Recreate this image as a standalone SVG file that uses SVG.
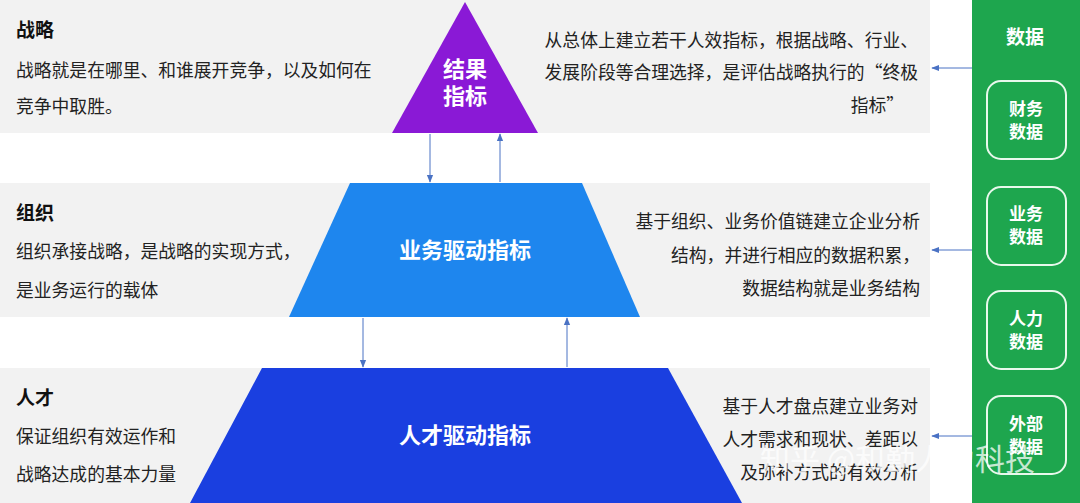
<svg xmlns="http://www.w3.org/2000/svg" width="1080" height="503" viewBox="0 0 1080 503">
<defs>
<style>
text{font-family:"Noto Sans CJK SC","Noto Sans",sans-serif}
.h{font-size:19px;font-weight:bold;fill:#111}
.t{font-size:17.8px;fill:#222}
.w{font-size:22px;font-weight:bold;fill:#fff}
.g{font-size:17px;font-weight:bold;fill:#fff}
.c{stroke:#4a72c4;stroke-width:1;fill:none;marker-end:url(#a)}
.box{fill:none;stroke:#e8f8ec;stroke-width:2}
</style>
<marker id="a" viewBox="0 0 10 10" refX="9" refY="5" markerWidth="8" markerHeight="8" orient="auto"><path d="M0,1L10,5L0,9z" fill="#4a72c4"/></marker>
</defs>
<rect width="1080" height="503" fill="#fff"/>
<g id="bands" fill="#f2f2f2">
<rect x="0" y="0" width="930" height="133"/>
<rect x="0" y="183" width="930" height="134"/>
<rect x="0" y="368" width="930" height="135"/>
</g>
<g id="strategy">
<text class="h" x="16" y="37">战略</text>
<text class="t" x="16" y="77">战略就是在哪里、和谁展开竞争，以及如何在</text>
<text class="t" x="16" y="113">竞争中取胜。</text>
<text class="t" x="918" y="47" text-anchor="end">从总体上建立若干人效指标，根据战略、行业、</text>
<text class="t" x="918" y="79" text-anchor="end">发展阶段等合理选择，是评估战略执行的“终极</text>
<text class="t" x="904" y="112" text-anchor="end">指标”</text>
</g>
<g id="org">
<text class="h" x="16" y="220">组织</text>
<text class="t" x="16" y="258">组织承接战略，是战略的实现方式，</text>
<text class="t" x="16" y="297">是业务运行的载体</text>
<text class="t" x="920" y="228" text-anchor="end">基于组织、业务价值链建立企业分析</text>
<text class="t" x="920" y="262" text-anchor="end">结构，并进行相应的数据积累，</text>
<text class="t" x="920" y="295" text-anchor="end">数据结构就是业务结构</text>
</g>
<g id="talent">
<text class="h" x="16" y="405">人才</text>
<text class="t" x="16" y="443">保证组织有效运作和</text>
<text class="t" x="16" y="481">战略达成的基本力量</text>
<text class="t" x="918" y="413" text-anchor="end">基于人才盘点建立业务对</text>
<text class="t" x="918" y="446" text-anchor="end">人才需求和现状、差距以</text>
<text class="t" x="918" y="479" text-anchor="end">及弥补方式的有效分析</text>
</g>
<g id="result">
<path d="M465,2L538,133H392z" fill="#8a19d6"/>
<text class="w" x="465" y="77" text-anchor="middle">结果</text>
<text class="w" x="465" y="104" text-anchor="middle">指标</text>
</g>
<g id="business">
<path d="M350,183H582L640,317H289z" fill="#1e86ee"/>
<text class="w" x="465" y="258" text-anchor="middle">业务驱动指标</text>
</g>
<g id="talentdrive">
<path d="M262,368H668L742,503H190z" fill="#1a3fe0"/>
<text class="w" x="465" y="443" text-anchor="middle">人才驱动指标</text>
</g>
<g id="data">
<rect x="972" y="0" width="108" height="503" fill="#1ea64e"/>
<text class="w" x="1025" y="44" text-anchor="middle" style="font-size:19px">数据</text>
<rect class="box" x="987" y="81" width="79" height="78" rx="14"/>
<text class="g" x="1026" y="115" text-anchor="middle">财务</text><text class="g" x="1026" y="138" text-anchor="middle">数据</text>
<rect class="box" x="987" y="187" width="79" height="78" rx="14"/>
<text class="g" x="1026" y="220" text-anchor="middle">业务</text><text class="g" x="1026" y="243" text-anchor="middle">数据</text>
<rect class="box" x="987" y="291" width="79" height="78" rx="14"/>
<text class="g" x="1026" y="325" text-anchor="middle">人力</text><text class="g" x="1026" y="348" text-anchor="middle">数据</text>
<rect class="box" x="987" y="396" width="79" height="78" rx="14"/>
<text class="g" x="1026" y="430" text-anchor="middle">外部</text><text class="g" x="1026" y="453" text-anchor="middle">数据</text>
</g>
<g id="connectors">
<path class="c" d="M430,134V182"/>
<path class="c" d="M500,182V134"/>
<path class="c" d="M363,318V367"/>
<path class="c" d="M567,367V318"/>
<path class="c" d="M972,68H932"/>
<path class="c" d="M972,250H932"/>
<path class="c" d="M972,436H932"/>
</g>
<text x="760" y="470" style="font-size:30px;fill:#fff;fill-opacity:0.75">知乎 @和勤人力科技</text>
</svg>
